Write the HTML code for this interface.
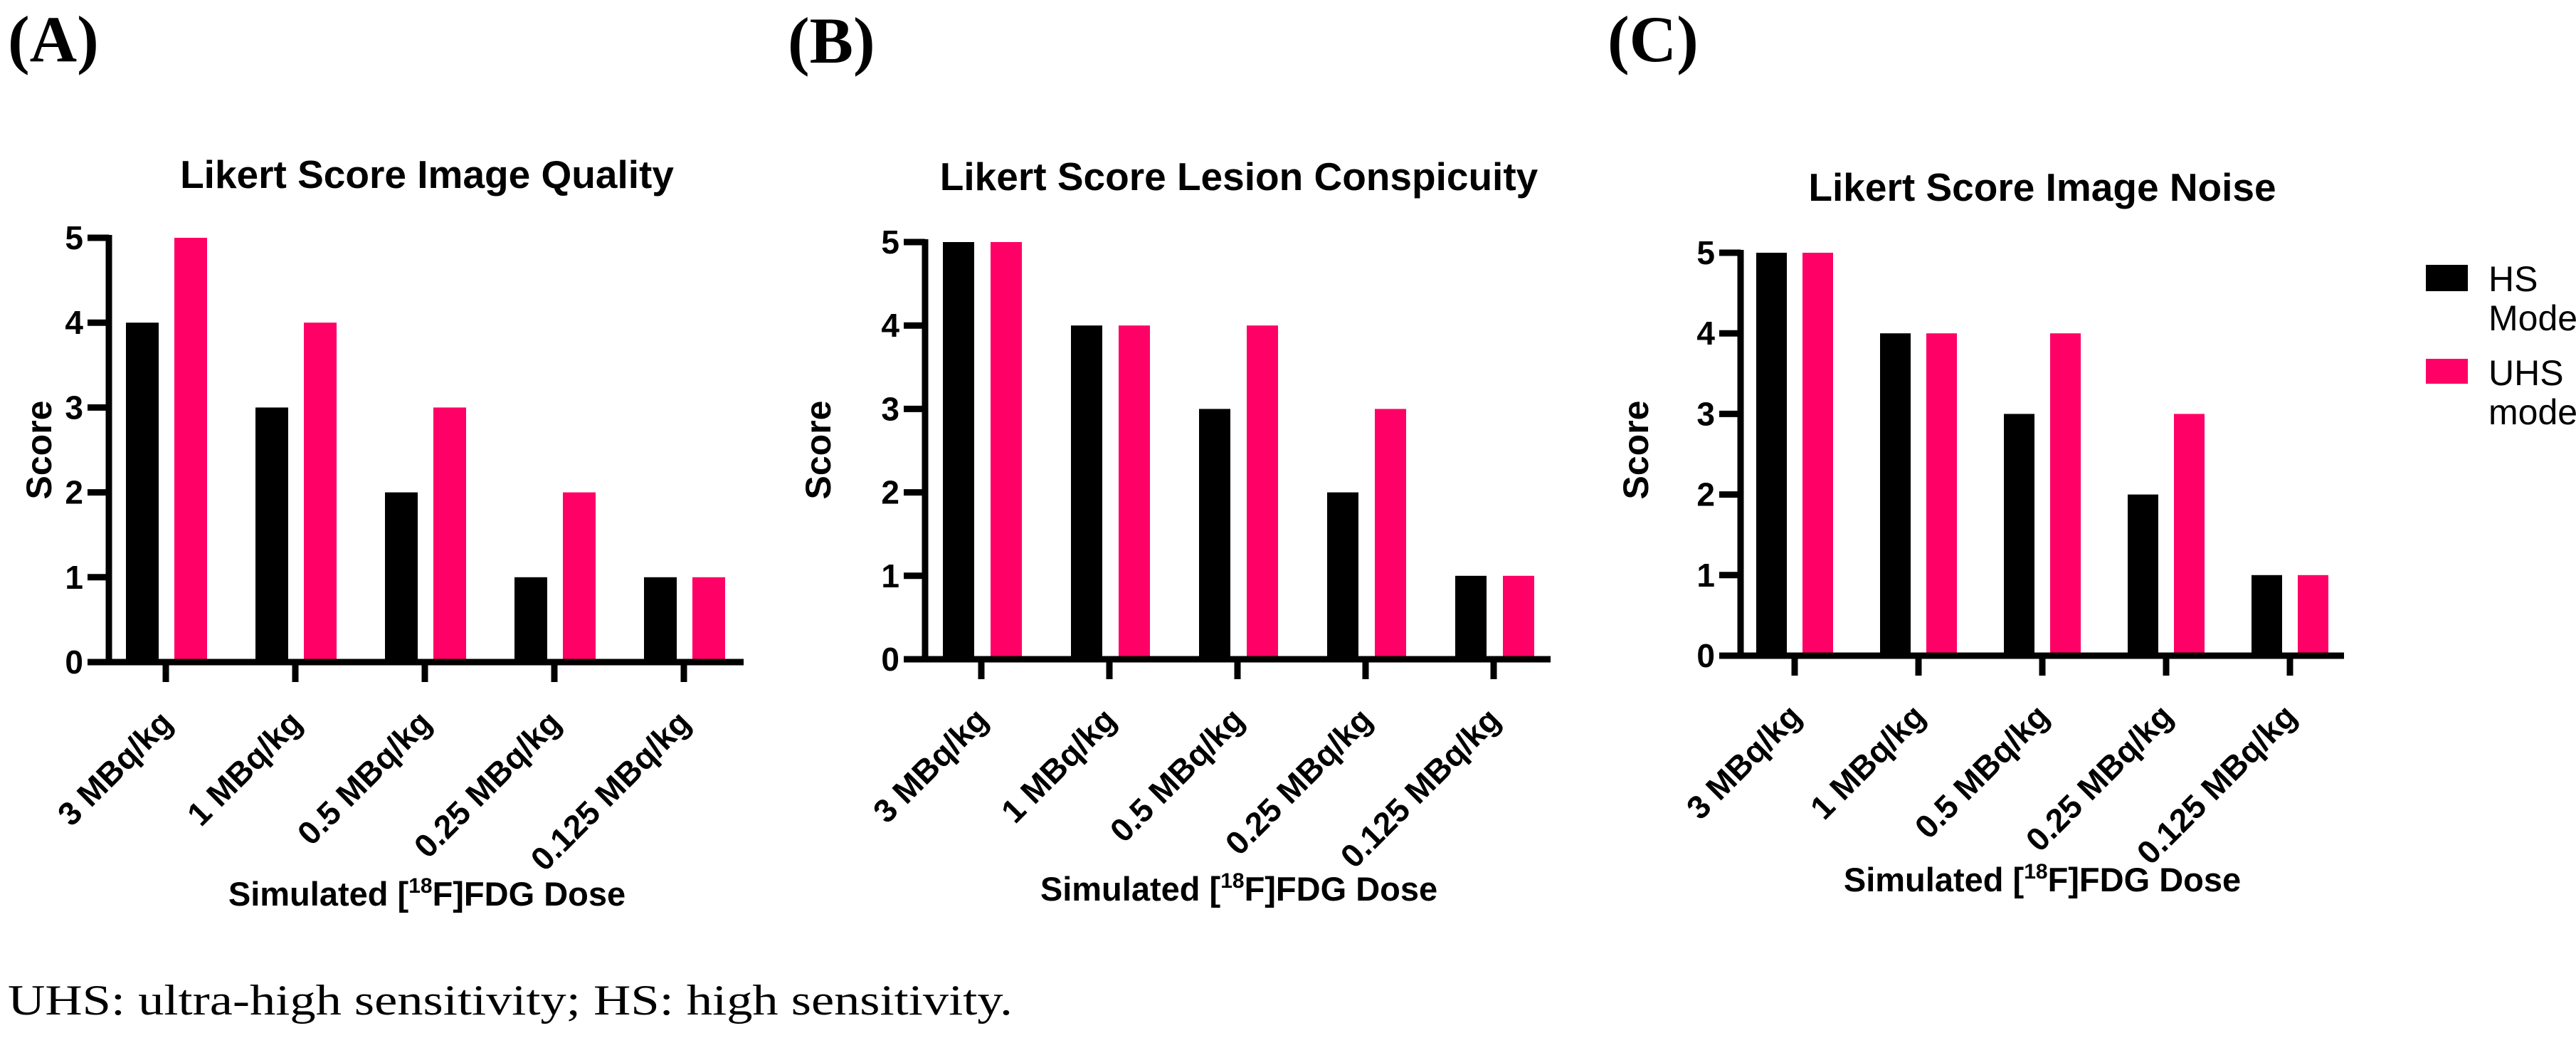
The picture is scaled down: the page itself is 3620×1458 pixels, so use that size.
<!DOCTYPE html>
<html><head><meta charset="utf-8"><style>
html,body{margin:0;padding:0;background:#fff;}
svg{display:block;}
</style></head><body>
<svg id="fig" width="3620" height="1458" viewBox="0 0 3620 1458" xmlns="http://www.w3.org/2000/svg">
<rect width="3620" height="1458" fill="#fff"/>
<g font-family="'Liberation Serif', serif" font-weight="bold" font-size="92">
<text x="11" y="86">(A)</text>
<text x="1107" y="88">(B)</text>
<text x="2259" y="86">(C)</text>
</g>
<text x="11" y="1425" font-family="'Liberation Serif', serif" font-size="60" textLength="1412" lengthAdjust="spacingAndGlyphs">UHS: ultra-high sensitivity; HS: high sensitivity.</text>
<g font-family="'Liberation Sans', sans-serif" font-size="50">
<rect x="3409" y="372" width="59" height="37" fill="#000"/>
<text x="3497" y="409">HS</text>
<text x="3497" y="464">Mode</text>
<rect x="3409" y="504" width="59" height="35" fill="#ff0066"/>
<text x="3497" y="541">UHS</text>
<text x="3497" y="596">mode</text>
</g>
</svg>
<script>
const categories = ["3 MBq/kg", "1 MBq/kg", "0.5 MBq/kg", "0.25 MBq/kg", "0.125 MBq/kg"];
const yTicks = [0, 1, 2, 3, 4, 5];
const titles = ["Likert Score Image Quality", "Likert Score Lesion Conspicuity", "Likert Score Image  Noise"];
const hsQuality = [4, 3, 2, 1, 1];
const uhsQuality = [5, 4, 3, 2, 1];
const hsConspicuity = [5, 4, 3, 2, 1];
const uhsConspicuity = [5, 4, 4, 3, 1];
const hsNoise = [5, 4, 3, 2, 1];
const uhsNoise = [5, 4, 4, 3, 1];

const NS = "http://www.w3.org/2000/svg";
const svg = document.getElementById("fig");
function mk(tag, attrs, parent) {
  const e = document.createElementNS(NS, tag);
  for (const k in attrs) e.setAttribute(k, attrs[k]);
  (parent || svg).appendChild(e);
  return e;
}
const layouts = [
  {id:"a", ax:153, y0:930, unit:119.2, t0:233, step:182, bw:46, bOff:-56, pOff:12, xEnd:1045, tx:600, ty:264, xtY:1272, scoreX:54, hs:hsQuality, uhs:uhsQuality},
  {id:"b", ax:1300, y0:926, unit:117.2, t0:1379, step:180, bw:44, bOff:-54, pOff:13, xEnd:2179, tx:1741, ty:267, xtY:1265, scoreX:1149, hs:hsConspicuity, uhs:uhsConspicuity},
  {id:"c", ax:2446, y0:921, unit:113.2, t0:2522, step:174, bw:43, bOff:-54, pOff:11, xEnd:3294, tx:2870, ty:282, xtY:1252, scoreX:2298, hs:hsNoise, uhs:uhsNoise}
];
layouts.forEach((L, pi) => {
  const g = mk("g", {});
  
  
  const yS = v => L.y0 - v * L.unit;
  const xS = i => L.t0 + i * L.step;
  const title = mk("text", {x:L.tx, y:L.ty, "text-anchor":"middle", "font-family":"'Liberation Sans', sans-serif", "font-weight":"bold", "font-size":"55", "xml:space":"preserve"}, g);
  title.textContent = titles[pi];
  
  
  // bars
  categories.forEach((c, i) => {
    const hv = L.hs[i], uv = L.uhs[i];
    const b1 = mk("rect", {x:xS(i)+L.bOff, y:yS(hv), width:L.bw, height:L.y0-yS(hv), fill:"#000"}, g);
    
    
    const b2 = mk("rect", {x:xS(i)+L.pOff, y:yS(uv), width:L.bw, height:L.y0-yS(uv), fill:"#ff0066"}, g);
    
    
  });
  // y axis
  const ya = mk("line", {x1:L.ax, y1:yS(5)-4, x2:L.ax, y2:L.y0+4, stroke:"#000", "stroke-width":9}, g);
  
  
  yTicks.forEach(t => {
    mk("line", {x1:L.ax-30, y1:yS(t), x2:L.ax, y2:yS(t), stroke:"#000", "stroke-width":9}, g);
    const tl = mk("text", {x:L.ax-36, y:yS(t)+16, "text-anchor":"end", "font-family":"'Liberation Sans', sans-serif", "font-weight":"bold", "font-size":"46"}, g);
    tl.textContent = t;
    
    
  });
  const xa = mk("line", {x1:L.ax-30, y1:L.y0, x2:L.xEnd, y2:L.y0, stroke:"#000", "stroke-width":9}, g);
  
  
  categories.forEach((c, i) => {
    mk("line", {x1:xS(i), y1:L.y0, x2:xS(i), y2:L.y0+28, stroke:"#000", "stroke-width":9}, g);
    const px = xS(i) + 12, py = L.y0 + 88;
    const tl = mk("text", {x:px, y:py, "text-anchor":"end", transform:"rotate(-45 " + px + " " + py + ")", "font-family":"'Liberation Sans', sans-serif", "font-weight":"bold", "font-size":"46"}, g);
    tl.textContent = c;
    
    
  });
  const yt = mk("text", {x:L.scoreX+18, y:632, "text-anchor":"middle", transform:"rotate(-90 " + (L.scoreX+18) + " 632)", "font-family":"'Liberation Sans', sans-serif", "font-weight":"bold", "font-size":"50"}, g);
  yt.textContent = "Score";
  
  
  const xt = mk("text", {x:L.tx, y:L.xtY, "text-anchor":"middle", "font-family":"'Liberation Sans', sans-serif", "font-weight":"bold", "font-size":"47"}, g);
  
  
  const s1 = document.createElementNS(NS, "tspan"); s1.textContent = "Simulated ["; xt.appendChild(s1);
  const s2 = document.createElementNS(NS, "tspan"); s2.setAttribute("font-size", "30"); s2.setAttribute("dy", "-18"); s2.textContent = "18"; xt.appendChild(s2);
  const s3 = document.createElementNS(NS, "tspan"); s3.setAttribute("dy", "18"); s3.textContent = "F]FDG Dose"; xt.appendChild(s3);
});
</script>
</body></html>
